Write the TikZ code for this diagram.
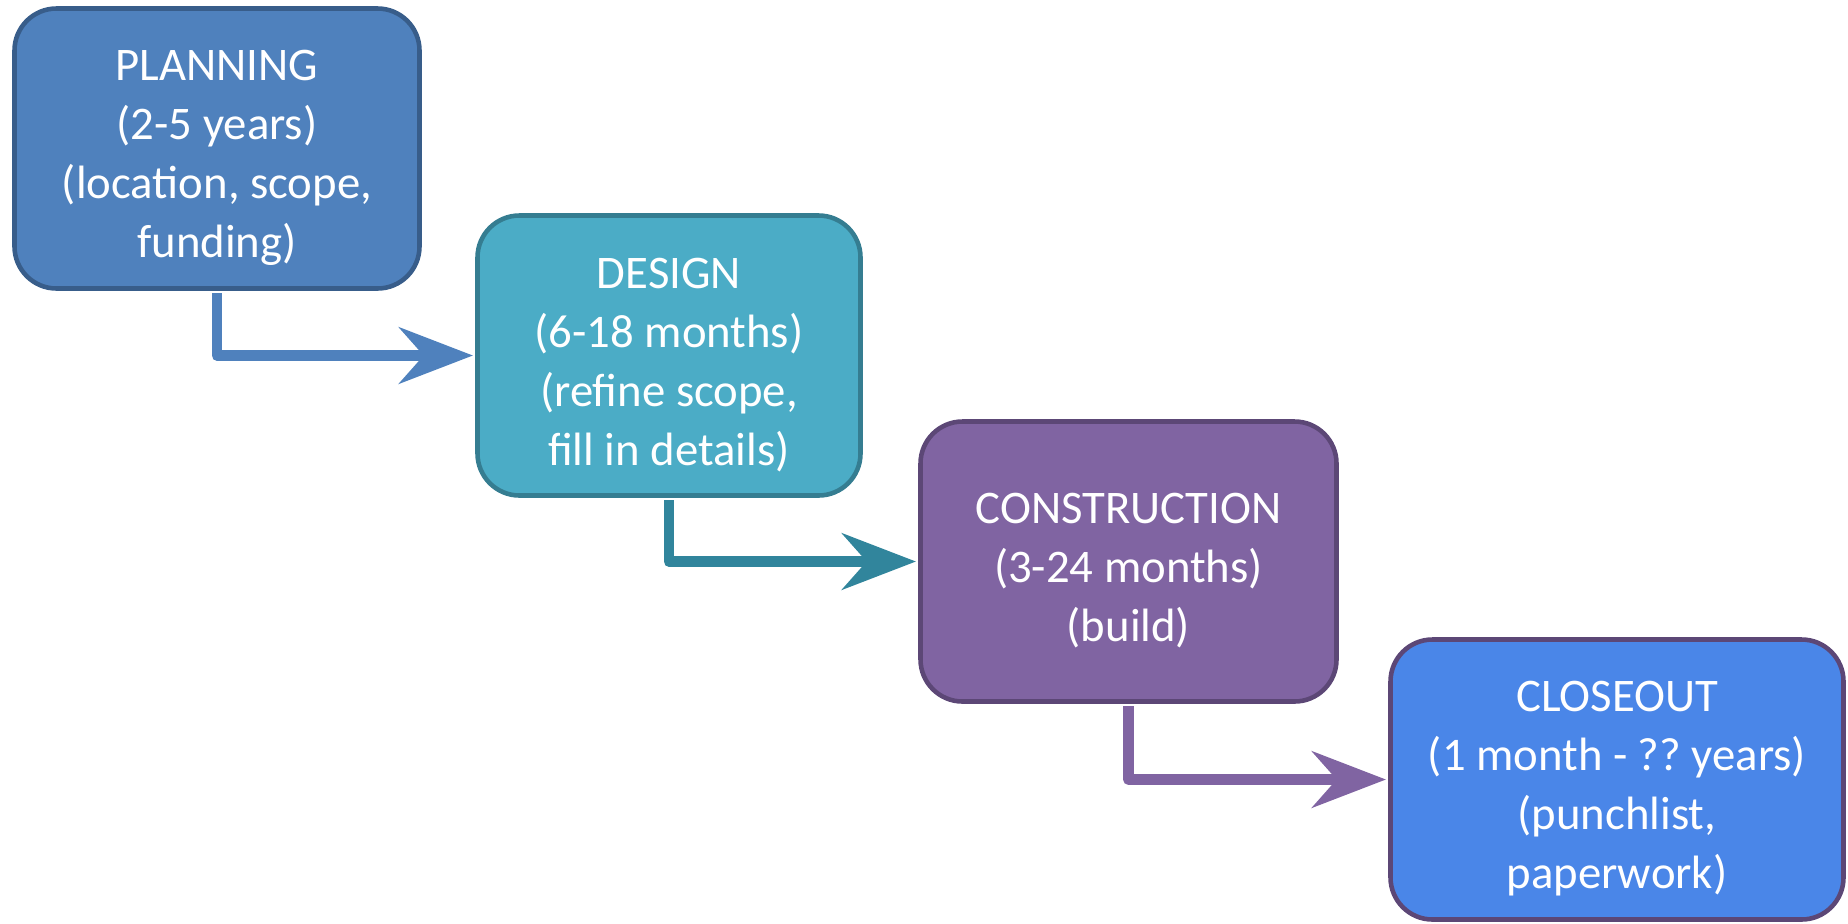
\documentclass[tikz,border=0pt]{standalone}
\usepackage{fontspec}
\setmainfont{Carlito}
\usetikzlibrary{arrows.meta,positioning}

\definecolor{planfill}{HTML}{4F81BD}
\definecolor{planline}{HTML}{385D8A}
\definecolor{designfill}{HTML}{4BACC6}
\definecolor{designline}{HTML}{357D91}
\definecolor{designarrow}{HTML}{31859C}
\definecolor{buildfill}{HTML}{8064A2}
\definecolor{buildline}{HTML}{5C4776}
\definecolor{closefill}{HTML}{4A86E8}

% pushes the text of a box a little down
\newcommand{\phasetop}{\rule{0pt}{0.49cm}}

\begin{document}
\begin{tikzpicture}[
    phase/.style={draw, line width=1.3pt, rounded corners=0.42cm, minimum height=2.8cm,
        align=center, text=white, inner sep=0pt, font=\fontsize{13.3pt}{16.8pt}\selectfont},
    flow/.style={line width=3.1pt, line join=round, -{Stealth[length=21pt,width=16pt,inset=7pt]}}
]
    \useasboundingbox (0,0) rectangle (18.48,-9.23);

    % phase boxes
    \node[phase, fill=planfill, draw=planline, minimum width=4.05cm] (planning) at (2.17,-1.485)
        {\phasetop PLANNING\\(2-5 years)\\(location, scope,\\funding)};
    \node[phase, fill=designfill, draw=designline, minimum width=3.83cm] (design) at (6.69,-3.555)
        {\phasetop DESIGN\\(6-18 months)\\(refine scope,\\fill in details)};
    \node[phase, fill=buildfill, draw=buildline, minimum width=4.16cm] (construction) at (11.285,-5.615)
        {\phasetop CONSTRUCTION\\(3-24 months)\\(build)};
    \node[phase, fill=closefill, draw=buildline, minimum width=4.53cm] (closeout) at (16.17,-7.795)
        {\phasetop CLOSEOUT\\(1 month - ??\ years)\\(punchlist,\\paperwork)};

    % down out of each box and into the next one
    \draw[flow, planfill] ([yshift=-0.65pt]planning.south) |- ([xshift=-0.65pt]design.west);
    \draw[flow, designarrow] ([yshift=-0.65pt]design.south) |- ([xshift=-0.65pt]construction.west);
    \draw[flow, buildfill] ([yshift=-0.65pt]construction.south) |- ([xshift=-0.65pt]closeout.west);
\end{tikzpicture}
\end{document}
